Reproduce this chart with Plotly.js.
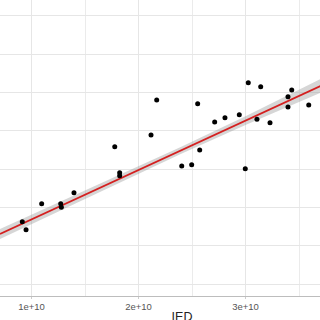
<!DOCTYPE html>
<html>
<head>
<meta charset="utf-8">
<script src="https://cdn.plot.ly/plotly-3.0.1.min.js"></script>
<style>
html,body{margin:0;padding:0;width:320px;height:320px;overflow:hidden;background:#fff;}
#chart{width:364px;height:332px;}
</style>
</head>
<body>
<div id="chart"></div>
<script>
// Scatter points (x in IED units, y in arbitrary units; y labels are cropped in the reference)
const ied = [0.914e10,0.949e10,1.095e10,1.273e10,1.279e10,1.397e10,1.778e10,1.824e10,1.824e10,
             2.117e10,2.170e10,2.404e10,2.497e10,2.553e10,2.572e10,2.712e10,2.808e10,2.942e10,
             2.998e10,3.026e10,3.107e10,3.142e10,3.229e10,3.397e10,3.397e10,3.432e10,3.591e10];
const yval = [2.633,2.424,3.103,3.103,3.009,3.390,4.590,3.912,3.833,
              4.895,5.808,4.086,4.120,5.712,4.504,5.234,5.346,5.425,
              4.016,6.260,5.305,6.155,5.216,5.894,5.626,6.069,5.678];

// Fitted line and confidence band
const fitX = [0.7056e10,1.5e10,2.4e10,3.0e10,3.70e10];
const fitY = [2.312,3.336,4.497,5.270,6.173];
const fitLo = [2.182,3.231,4.407,5.153,5.993];
const fitHi = [2.442,3.441,4.587,5.387,6.353];

const xTickVals = [1e10,2e10,3e10,4e10];
const xTickText = ['1e+10','2e+10','3e+10','4e+10'];

const bandX = fitX.concat(fitX.slice().reverse());
const bandY = fitHi.concat(fitLo.slice().reverse());

const traces = [
  {x: bandX, y: bandY, type:'scatter', mode:'lines', fill:'toself',
   fillcolor:'rgba(153,153,153,0.4)', line:{width:0}, hoverinfo:'skip', showlegend:false},
  {x: fitX, y: fitY, type:'scatter', mode:'lines',
   line:{color:'#d42020', width:1.8}, showlegend:false},
  {x: ied, y: yval, type:'scatter', mode:'markers',
   marker:{color:'#000000', size:5}, showlegend:false}
];

const layout = {
  width:364, height:332,
  margin:{l:0, r:0, t:0, b:36},
  paper_bgcolor:'#ffffff', plot_bgcolor:'#ffffff',
  showlegend:false,
  xaxis:{
    range:[0.7056e10, 4.1075e10],
    tickmode:'array', tickvals:xTickVals, ticktext:xTickText,
    showgrid:true, gridcolor:'#e6e6e6', gridwidth:1,
    minor:{tickmode:'linear', tick0:0.5e10, dtick:0.5e10, showgrid:true, gridcolor:'#ebebeb', gridwidth:1, ticklen:0},
    zeroline:false,
    showline:true, linecolor:'#bdbdbd', linewidth:1,
    ticks:'outside', ticklen:2, tickcolor:'#cccccc',
    tickfont:{family:'Liberation Sans, Arial, sans-serif', size:9.5, color:'#555555'},
    title:{text:'IED', font:{family:'Liberation Sans, Arial, sans-serif', size:12.5, color:'#222222'}, standoff:0}
  },
  yaxis:{
    range:[0.695, 8.417],
    tickmode:'linear', tick0:0, dtick:1,
    showgrid:true, gridcolor:'#e6e6e6', gridwidth:1,
    zeroline:false, showline:false, showticklabels:false, ticks:''
  }
};

Plotly.newPlot('chart', traces, layout, {displayModeBar:false, staticPlot:true});
</script>
</body>
</html>
